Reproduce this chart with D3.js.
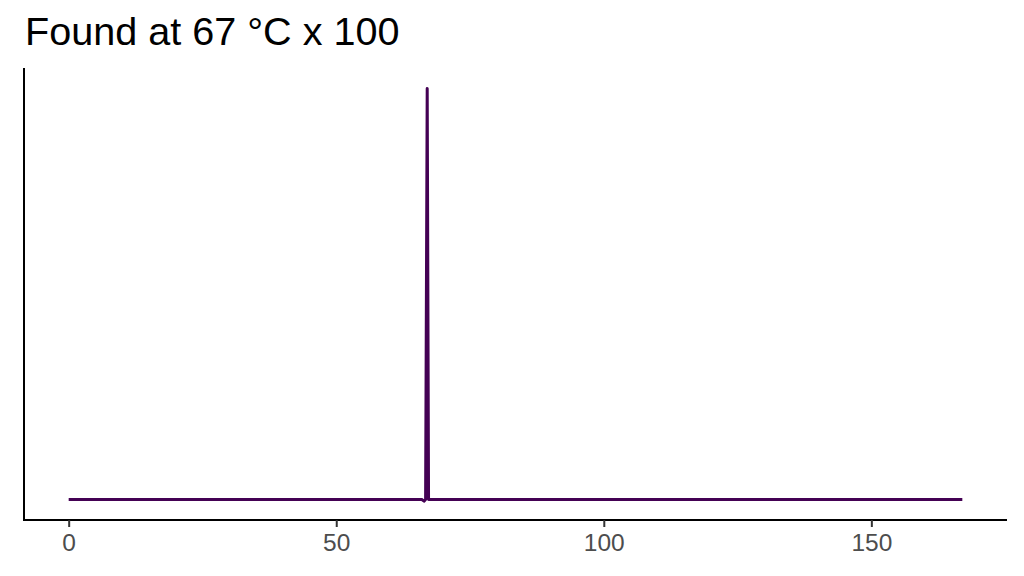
<!DOCTYPE html>
<meta charset="utf-8">
<style>
body { margin: 0; background: #fff; }
svg { display: block; font-family: "Liberation Sans", Arial, sans-serif; }
.tick text { fill: #4d4d4d; font-size: 24.5px; }
.tick line { stroke: #333; stroke-width: 2px; }
.domain { stroke: #000; stroke-width: 2px; }
</style>
<body>
<script src="https://cdn.jsdelivr.net/npm/d3@7"></script>
<script>
var width = 1024,
    height = 576;
var margin = {top: 68, right: 17, bottom: 56, left: 24};

// temperature (x) and signal (y)
var temps  = [0, 66, 66.4, 66.7, 67, 67.25, 167];
var signal = [0, 0, -0.004, 0, 1, 0, 0];
var xTicks = [0, 50, 100, 150];
var title = "Found at 67 °C x 100";

var data = temps.map(function(t, i) { return {x: t, y: signal[i]}; });

var svg = d3.select("body").append("svg")
    .attr("width", width)
    .attr("height", height);

var xExt = [0, 167], yExt = [0, 1];
var xPad = (xExt[1] - xExt[0]) * 0.05,
    yPad = (yExt[1] - yExt[0]) * 0.05;

var x = d3.scaleLinear()
    .domain([xExt[0] - xPad, xExt[1] + xPad])
    .range([margin.left, width - margin.right]);
var y = d3.scaleLinear()
    .domain([yExt[0] - yPad, yExt[1] + yPad])
    .range([height - margin.bottom, margin.top]);

svg.append("path")
    .datum(data)
    .attr("fill", "none")
    .attr("stroke", "#440154")
    .attr("stroke-width", 3)
    .attr("stroke-linejoin", "round")
    .attr("d", d3.line().x(function(d) { return x(d.x); }).y(function(d) { return y(d.y); }));

var xAxis = svg.append("g")
    .attr("transform", "translate(0," + (height - margin.bottom) + ")")
    .call(d3.axisBottom(x).tickValues(xTicks).tickSize(7).tickSizeOuter(0).tickPadding(7));
xAxis.select(".domain").attr("d", "M" + margin.left + ",0H" + (width - margin.right));

svg.append("line")
    .attr("x1", margin.left).attr("x2", margin.left)
    .attr("y1", margin.top).attr("y2", height - margin.bottom + 1)
    .attr("stroke", "#000").attr("stroke-width", 2);

svg.append("text")
    .attr("x", 25)
    .attr("y", 45)
    .attr("font-size", 39.6)
    .attr("fill", "#000")
    .text(title);
</script>
</body>
